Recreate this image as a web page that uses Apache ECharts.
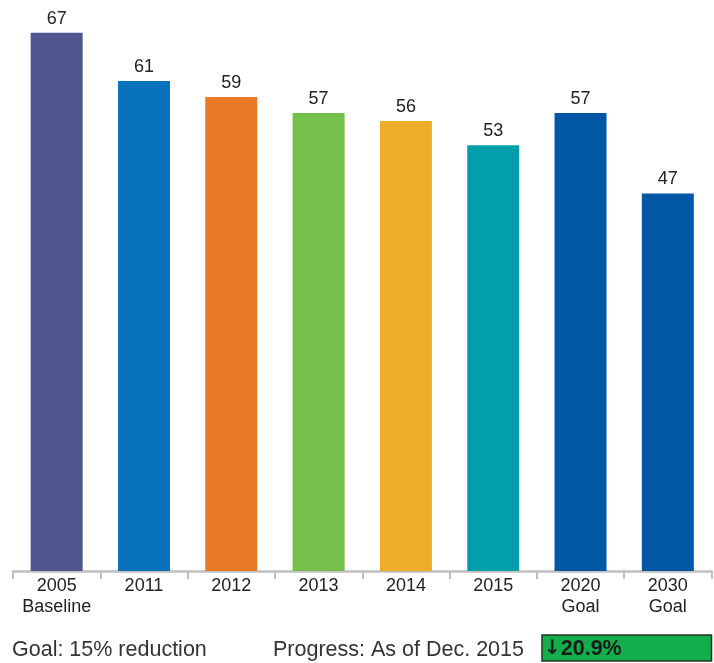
<!DOCTYPE html>
<html>
<head>
<meta charset="utf-8">
<script src="https://cdn.jsdelivr.net/npm/echarts@6/dist/echarts.min.js"></script>
<style>
  html, body { margin: 0; padding: 0; background: #fff; }
  #chart { width: 714px; height: 663px; }
</style>
</head>
<body>
<div id="chart"></div>
<script>
// Emissions by year, baseline vs. goals
var categories = ['2005\nBaseline', '2011', '2012', '2013', '2014', '2015', '2020\nGoal', '2030\nGoal'];
var values = [67, 61, 59, 57, 56, 53, 57, 47];
var barColors = ['#4e558f', '#0872ba', '#e87a26', '#74c04b', '#edad27', '#009fa9', '#0257a5', '#0257a5'];
var goalText = 'Goal: 15% reduction';
var progressText = 'Progress: As of Dec. 2015';
var progressArrow = '\u2193';
var progressValue = '20.9%';

var FONT = "'Liberation Sans', Arial, Helvetica, sans-serif";
var chart = echarts.init(document.getElementById('chart'));

chart.setOption({
  animation: false,
  textStyle: { fontFamily: FONT },
  grid: { left: 13, right: 2.5, top: 8.6, bottom: 92 },
  xAxis: {
    type: 'category',
    data: categories,
    axisLine: { show: true, lineStyle: { color: '#c0c0c0', width: 2.5 } },
    axisTick: { show: true, alignWithLabel: false, length: 8, lineStyle: { color: '#c0c0c0', width: 2 } },
    axisLabel: {
      margin: 5,
      fontSize: 18,
      lineHeight: 21,
      color: '#222',
      fontFamily: FONT,
      interval: 0
    }
  },
  yAxis: {
    type: 'value',
    min: 0,
    max: 70,
    show: false,
    splitLine: { show: false }
  },
  series: [{
    type: 'bar',
    barWidth: 52,
    data: values.map(function (v, i) {
      return { value: v, itemStyle: { color: barColors[i] } };
    }),
    label: {
      show: true,
      position: 'top',
      distance: 5,
      fontSize: 18,
      color: '#222',
      fontFamily: FONT
    }
  }],
  graphic: [
    {
      type: 'text',
      left: 12,
      top: 639,
      style: { text: goalText, fontSize: 21.5, fill: '#333', fontFamily: FONT }
    },
    {
      type: 'text',
      left: 273,
      top: 639,
      style: { text: progressText, fontSize: 21.5, fill: '#333', fontFamily: FONT }
    },
    {
      type: 'rect',
      shape: { x: 542, y: 635, width: 169.5, height: 26 },
      style: { fill: '#12ae4b', stroke: '#223322', lineWidth: 1.5 }
    },
    {
      type: 'text',
      x: 544,
      y: 649,
      style: {
        text: '{a|' + progressArrow + '}{v|' + progressValue + '}',
        verticalAlign: 'middle',
        rich: {
          a: { fontSize: 20, fontWeight: 'bold', fill: '#1a1a1a', fontFamily: "'DejaVu Sans', sans-serif" },
          v: { fontSize: 21.5, fontWeight: 'bold', fill: '#1a1a1a', fontFamily: FONT }
        }
      }
    }
  ]
});
</script>
</body>
</html>
